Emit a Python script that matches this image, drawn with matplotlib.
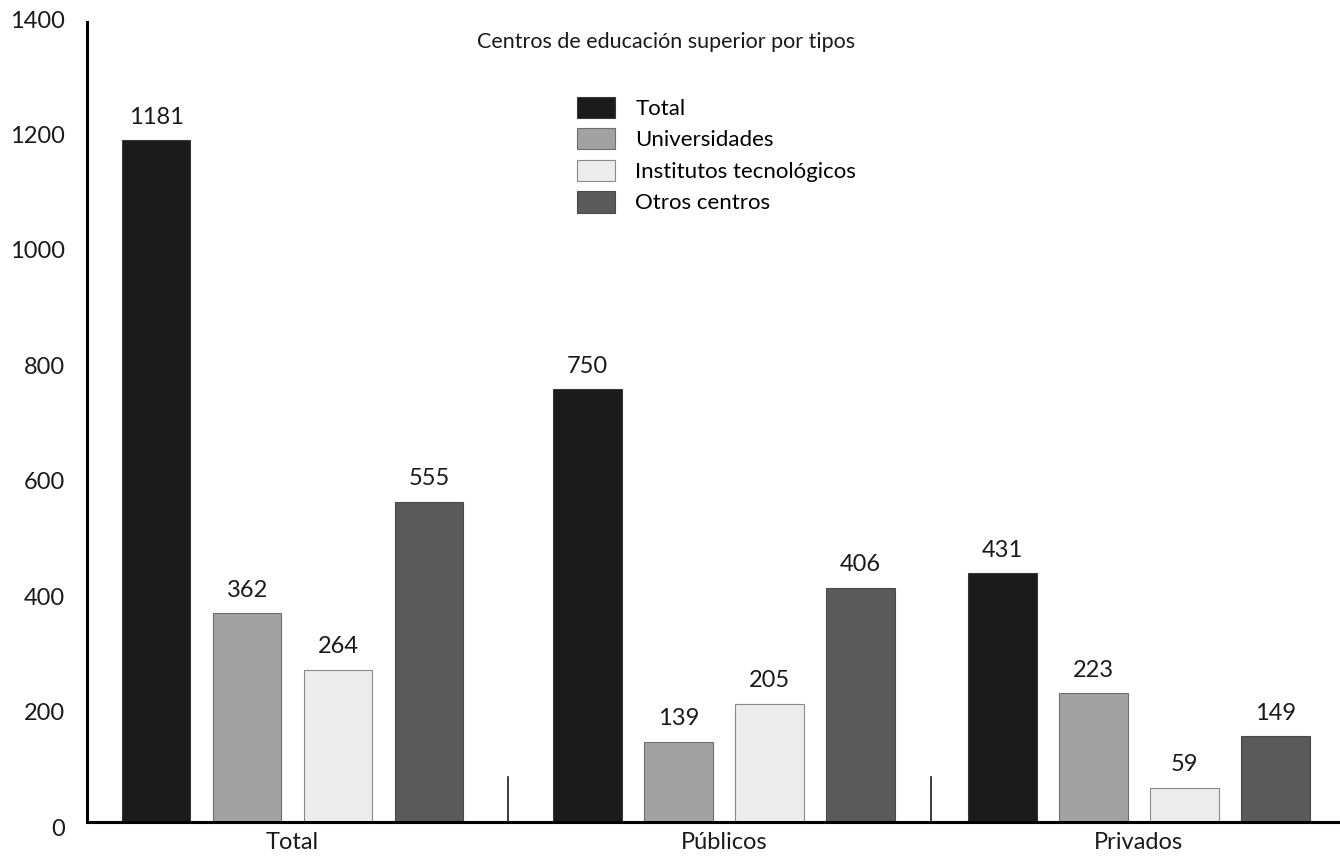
import matplotlib
matplotlib.use("Agg")
import matplotlib.pyplot as plt
import matplotlib.transforms as mtransforms
from matplotlib.patches import Patch

plt.rcParams['font.family'] = ['Lato', 'DejaVu Sans']

# Data
groups = ["Total", "Públicos", "Privados"]
series = ["Total", "Universidades", "Institutos tecnológicos", "Otros centros"]
total_vals = [1181, 750, 431]
univ_vals = [362, 139, 223]
inst_vals = [264, 205, 59]
otros_vals = [555, 406, 149]
yticks = [0, 200, 400, 600, 800, 1000, 1200, 1400]
title = "Centros de educación superior por tipos"

values = [total_vals, univ_vals, inst_vals, otros_vals]
fills = ["#1b1b1b", "#a2a2a2", "#ececec", "#5a5a5a"]
edges = ["#3a3a3a", "#6e6e6e", "#8a8a8a", "#4a4a4a"]

# Layout of the groups along x (one unit = one bar slot)
group_starts = [0.0, 4.74, 9.30]
bar_width = 0.75
separators = [3.87, 8.52]

fig = plt.figure(figsize=(13.40, 8.61), dpi=100)
ax = fig.add_axes([87 / 1340, 39 / 861, 1 - 87 / 1340, 808 / 861])

for s, (vals, fc, ec) in enumerate(zip(values, fills, edges)):
    xs = [g + s for g in group_starts]
    ax.bar(xs, vals, width=bar_width, color=fc, edgecolor=ec, linewidth=0.8, zorder=2)
    for x, v in zip(xs, vals):
        ax.annotate(f"{v}", (x, v), xytext=(0, 9), textcoords="offset points",
                    ha="center", va="bottom", fontsize=17, color="#1a1a1a")

# Short dividers between groups
for sx in separators:
    ax.plot([sx, sx], [0, 78], color="#1a1a1a", linewidth=1.2, zorder=3)

ax.set_xlim(-0.76, 13.01)
ax.set_ylim(0, 1400)

ax.set_yticks(yticks)
ax.set_yticklabels([str(t) for t in yticks], fontsize=17, color="#1a1a1a")
ax.set_xticks([g + 1.5 for g in group_starts])
ax.set_xticklabels(groups, fontsize=17, color="#1a1a1a")
ax.tick_params(axis="y", length=0, pad=16)
ax.tick_params(axis="x", length=0, pad=7)
shift = mtransforms.ScaledTranslation(0, -5 / 100, fig.dpi_scale_trans)
for lbl in ax.get_yticklabels():
    lbl.set_transform(lbl.get_transform() + shift)

for side in ("top", "right"):
    ax.spines[side].set_visible(False)
ax.spines["left"].set_linewidth(2.2)
ax.spines["bottom"].set_linewidth(2.2)
ax.spines["left"].set_bounds(0, 1386)

fig.text(666 / 1340, 1 - 42 / 861, title, ha="center", va="center",
         fontsize=15.5, color="#1a1a1a")

handles = [Patch(facecolor=fc, edgecolor=ec, linewidth=0.8) for fc, ec in zip(fills, edges)]
fig.legend(handles, series, loc="upper left",
           bbox_to_anchor=(561 / 1340, 1 - 81 / 861),
           frameon=False, fontsize=16, handlelength=1.75, handleheight=1.1,
           labelspacing=0.42, handletextpad=0.9, borderpad=0.2)

fig.savefig("out.png", dpi=100)
